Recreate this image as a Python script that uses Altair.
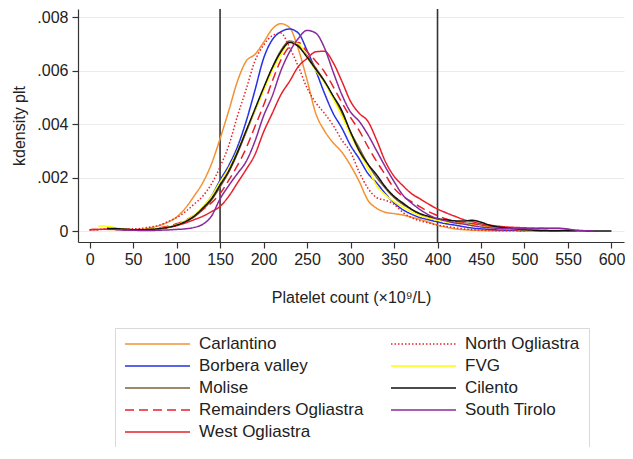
import altair as alt
import pandas as pd

# Platelet count grid (x 10^9/L)
x_vals = [0, 10, 20, 30, 40, 50, 60, 70, 80, 90, 100, 110, 120, 130, 140, 150, 160, 170, 180, 190,
          200, 210, 220, 230, 240, 250, 260, 270, 280, 290, 300, 310, 320, 330, 340, 350, 360, 370, 380, 390,
          400, 410, 420, 430, 440, 450, 460, 470, 480, 500, 520, 540, 560, 580, 600]

# kernel density estimates (in units of 0.001)
carlantino = [None, None, 0.06, 0.05, 0.04, 0.05, 0.07, 0.12, 0.2, 0.33, 0.52, 0.85, 1.3, 1.8, 2.5, 3.45, 4.5, 5.6, 6.35, 6.6,
              7.05, 7.55, 7.75, 7.6, 6.8, 5.65, 4.4, 3.75, 3.3, 2.95, 2.45, 1.85, 1.15, 0.85, 0.7, 0.65, 0.6, 0.52, 0.43, 0.33,
              0.22, 0.14, 0.08, 0.05, 0.03, 0.02, 0.01, 0.01, 0.01, 0.01, 0.0, None, None, None, None]
borbera = [None, None, 0.08, 0.07, 0.05, 0.04, 0.04, 0.06, 0.09, 0.14, 0.23, 0.37, 0.57, 0.88, 1.3, 1.9, 2.45, 3.15, 4.1, 5.25,
           6.45, 7.15, 7.45, 7.55, 7.4, 6.75, 6.0, 5.15, 4.4, 3.85, 3.2, 2.7, 2.15, 1.8, 1.4, 1.05, 0.8, 0.63, 0.5, 0.42,
           0.34, 0.27, 0.22, 0.16, 0.11, 0.08, 0.06, 0.04, 0.03, 0.02, 0.01, 0.0, None, None, None]
molise = [None, None, 0.08, 0.08, 0.06, 0.05, 0.05, 0.06, 0.09, 0.14, 0.22, 0.34, 0.52, 0.8, 1.15, 1.65, 2.2, 2.9, 3.7, 4.5,
          5.3, 6.1, 6.75, 7.1, 6.95, 6.55, 6.1, 5.6, 5.0, 4.4, 3.7, 3.1, 2.5, 2.0, 1.6, 1.25, 1.0, 0.8, 0.62, 0.5,
          0.42, 0.36, 0.32, 0.3, 0.28, 0.22, 0.17, 0.12, 0.08, 0.04, 0.02, 0.01, 0.0, None, None]
remainders = [0.05, 0.06, 0.07, 0.07, 0.06, 0.05, 0.06, 0.08, 0.12, 0.18, 0.27, 0.4, 0.58, 0.8, 1.05, 1.4, 1.9, 2.45, 3.1, 3.9,
              4.7, 5.6, 6.4, 6.9, 7.05, 6.7, 6.35, 5.95, 5.4, 4.8, 4.25, 3.75, 3.15, 2.6, 2.1, 1.6, 1.3, 1.1, 0.9, 0.72,
              0.58, 0.45, 0.36, 0.3, 0.25, 0.2, 0.15, 0.1, 0.07, 0.04, 0.02, 0.01, 0.0, None, None]
west_ogliastra = [0.05, 0.06, 0.07, 0.07, 0.06, 0.05, 0.05, 0.06, 0.09, 0.13, 0.2, 0.3, 0.42, 0.55, 0.72, 0.92, 1.3, 1.8, 2.3, 2.85,
                  3.7, 4.4, 5.1, 5.6, 6.15, 6.45, 6.7, 6.72, 6.3, 5.6, 4.85, 4.4, 4.1, 3.4, 2.6, 2.05, 1.7, 1.4, 1.2, 1.0,
                  0.82, 0.68, 0.55, 0.43, 0.35, 0.27, 0.22, 0.18, 0.15, 0.12, 0.1, 0.09, 0.02, 0.0, None]
north_ogliastra = [0.04, 0.05, 0.07, 0.08, 0.08, 0.08, 0.1, 0.15, 0.22, 0.35, 0.5, 0.72, 1.0, 1.3, 1.75, 2.4, 3.2, 4.3, 5.3, 6.35,
                   6.95, 7.3, 7.4, 6.85, 6.15, 5.35, 4.8, 4.4, 3.95, 3.4, 2.95, 2.2, 1.6, 1.25, 1.15, 1.0, 0.7, 0.5, 0.38, 0.3,
                   0.22, 0.17, 0.12, 0.08, 0.05, 0.03, 0.02, 0.01, 0.01, 0.0, None, None, None, None, None]
fvg = [None, 0.19, 0.18, 0.12, 0.07, 0.05, 0.05, 0.07, 0.1, 0.15, 0.24, 0.38, 0.6, 0.9, 1.3, 1.83, 2.35, 3.0, 3.75, 4.5,
       5.25, 6.0, 6.6, 7.05, 7.0, 6.5, 6.0, 5.55, 4.95, 4.3, 3.6, 2.95, 2.35, 1.7, 1.35, 1.1, 0.9, 0.72, 0.58, 0.48,
       0.4, 0.34, 0.3, 0.27, 0.22, 0.17, 0.13, 0.1, 0.08, 0.05, 0.03, 0.02, 0.01, 0.0, None]
cilento = [None, None, 0.1, 0.09, 0.07, 0.05, 0.05, 0.06, 0.09, 0.14, 0.22, 0.35, 0.55, 0.85, 1.2, 1.72, 2.25, 2.95, 3.75, 4.55,
           5.35, 6.1, 6.7, 7.05, 6.9, 6.5, 6.05, 5.6, 5.05, 4.5, 3.7, 3.0, 2.5, 2.1, 1.65, 1.3, 1.05, 0.82, 0.65, 0.55,
           0.46, 0.42, 0.38, 0.37, 0.4, 0.33, 0.22, 0.15, 0.11, 0.05, 0.02, 0.01, 0.01, 0.0, 0.0]
south_tirolo = [None, None, None, 0.05, 0.04, 0.03, 0.02, 0.02, 0.03, 0.04, 0.06, 0.08, 0.13, 0.25, 0.55, 1.2, 1.7, 2.15, 2.6, 3.35,
                4.3, 5.05, 6.0, 6.7, 7.2, 7.5, 7.4, 6.85, 5.95, 5.1, 4.45, 4.1, 3.6, 3.0, 2.4, 1.85, 1.35, 1.05, 0.8, 0.6,
                0.46, 0.38, 0.3, 0.26, 0.2, 0.15, 0.12, 0.1, 0.08, 0.08, 0.1, 0.1, 0.03, 0.0, None]

series_names = ["Carlantino", "Borbera valley", "Molise", "Remainders Ogliastra", "West Ogliastra",
                "North Ogliastra", "FVG", "Cilento", "South Tirolo"]
series_values = [carlantino, borbera, molise, remainders, west_ogliastra,
                 north_ogliastra, fvg, cilento, south_tirolo]
series_colors = ["#f39233", "#2430e6", "#80603c", "#e8202a", "#e8202a",
                 "#e8202a", "#ffff00", "#111111", "#8a2a9a"]
series_dashes = [[1, 0], [1, 0], [1, 0], [9, 5], [1, 0],
                 [1.5, 2], [1, 0], [1, 0], [1, 0]]

ref_lines = [150, 400]
x_ticks = [0, 50, 100, 150, 200, 250, 300, 350, 400, 450, 500, 550, 600]
y_ticks = [0, 0.002, 0.004, 0.006, 0.008]

rows = []
for name, vals in zip(series_names, series_values):
    for xv, yv in zip(x_vals, vals):
        if yv is not None:
            rows.append({"x": xv, "y": yv / 1000.0, "series": name})
df = pd.DataFrame(rows)
ref_df = pd.DataFrame({"x": ref_lines})

FONT = "Liberation Sans"
TXT = "#222222"

x_scale = alt.Scale(domain=[-13.34, 614.4], nice=False, zero=False)
y_scale = alt.Scale(domain=[-0.000411, 0.0083], nice=False, zero=False)

legend = alt.Legend(
    title=None, orient="none", legendX=37, legendY=319, columns=2,
    symbolType="stroke", symbolSize=4225, symbolStrokeWidth=1.5,
    clipHeight=14, rowPadding=5.0, columnPadding=26, labelOffset=8, labelLimit=300,
    labelFont=FONT, labelFontSize=17, labelColor=TXT,
    padding=9, strokeColor="#d9d9d9", fillColor="white",
)

rules = alt.Chart(ref_df).mark_rule(color="#333333", strokeWidth=1.6).encode(
    x=alt.X("x:Q", scale=x_scale)
)

lines = alt.Chart(df).mark_line(strokeWidth=1.5, interpolate="monotone").encode(
    x=alt.X("x:Q", scale=x_scale,
            axis=alt.Axis(values=x_ticks, format="d", title="Platelet count (×10⁹/L)",
                          grid=False, tickSize=6, labelPadding=3, titlePadding=22)),
    y=alt.Y("y:Q", scale=y_scale,
            axis=alt.Axis(values=y_ticks, title="kdensity plt",
                          labelExpr="datum.value == 0 ? '0' : replace(format(datum.value, '.3f'), '0.', '.')",
                          grid=True, gridColor="#ececec", tickSize=6, labelPadding=4, titlePadding=9)),
    color=alt.Color("series:N", sort=series_names,
                    scale=alt.Scale(domain=series_names, range=series_colors), legend=legend),
    strokeDash=alt.StrokeDash("series:N", sort=series_names,
                              scale=alt.Scale(domain=series_names, range=series_dashes), legend=legend),
    order=alt.Order("x:Q"),
    detail="series:N",
)

chart = alt.layer(rules, lines).properties(
    width=546, height=233,
    padding={"left": 70, "top": 1, "right": 1, "bottom": 205},
    autosize=alt.AutoSizeParams(type="none"),
).configure_view(stroke=None).configure_axis(
    labelFont=FONT, labelFontSize=16, labelColor=TXT,
    titleFont=FONT, titleFontSize=16, titleColor=TXT, titleFontWeight="normal",
    domainColor="#333333", tickColor="#333333", domainWidth=1.2, tickWidth=1.2,
)

chart.save("out.html", embed_options={"renderer": "svg", "actions": False})
